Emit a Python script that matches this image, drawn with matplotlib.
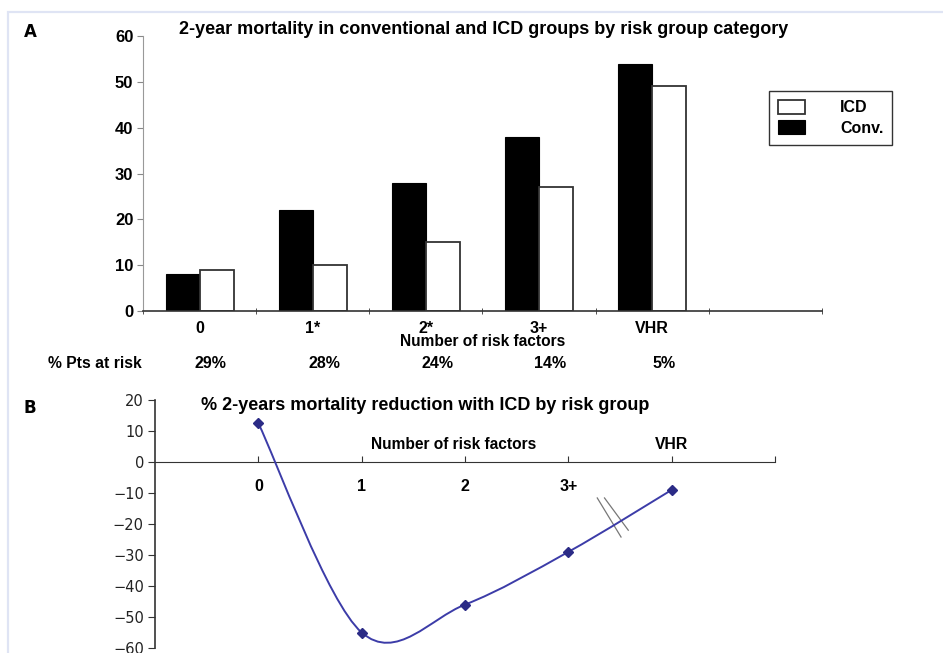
import matplotlib
matplotlib.use("Agg")
import matplotlib.pyplot as plt
from matplotlib.patches import Rectangle, PathPatch
from matplotlib.path import Path
from matplotlib.transforms import blended_transform_factory
import numpy as np

# --- data ---
categories = ["0", "1*", "2*", "3+", "VHR"]
conv = [8, 22, 28, 38, 54]
icd = [9, 10, 15, 27, 49]
pts_at_risk = ["29%", "28%", "24%", "14%", "5%"]

b_labels = ["0", "1", "2", "3+", "VHR"]
reduction = [12.5, -55, -46, -29, -9]

plt.rcParams['font.family'] = ['Liberation Sans', 'DejaVu Sans']

fig = plt.figure(figsize=(9.43, 6.53), dpi=100)

# light frame round the whole figure
fig.patches.append(Rectangle((8 / 943, -0.05), 1.2, 1 - 11.5 / 653 + 0.05,
                             transform=fig.transFigure, fill=False,
                             edgecolor='#dfe4f4', linewidth=1.6, zorder=0))

# ---------------- panel A ----------------
axA = fig.add_axes([143 / 943, 1 - 311 / 653, 679 / 943, 275 / 653])
x = np.arange(len(categories))
w = 0.3
axA.bar(x - w / 2, conv, w, color='black', edgecolor='black', linewidth=0.8, label='Conv.')
axA.bar(x + w / 2, icd, w, color='white', edgecolor='#333333', linewidth=1.3, label='ICD')

axA.set_xlim(-0.5, 5.5)
axA.set_ylim(0, 60)
axA.tick_params(axis='x', which='major', length=0, pad=7)
axA.tick_params(axis='x', which='minor', length=5, direction='inout', color='#333333')
axA.tick_params(axis='y', length=4, color='#888888', pad=3)
axA.set_yticks(range(0, 61, 10))
axA.set_yticklabels([str(v) for v in range(0, 61, 10)], fontsize=12, fontweight='bold')
axA.set_xticks(x)
axA.set_xticklabels(categories, fontsize=11.5, fontweight='bold')
axA.set_xticks(np.arange(-0.5, 6, 1), minor=True)
for s in ['top', 'right']:
    axA.spines[s].set_visible(False)
axA.spines['left'].set_color('#999999')
axA.spines['bottom'].set_color('#333333')
axA.spines['bottom'].set_linewidth(1.2)
axA.set_xlabel("Number of risk factors", fontsize=11.2, fontweight='bold', labelpad=-1)

handles, labels = axA.get_legend_handles_labels()
leg = axA.legend(handles[::-1], labels[::-1], loc='upper left',
                 bbox_to_anchor=(0.922, 0.8), fancybox=False, edgecolor='black',
                 prop={'weight': 'bold', 'size': 11.5}, handlelength=1.7,
                 handleheight=1.0, handletextpad=2.2, borderpad=0.55,
                 labelspacing=0.3, borderaxespad=0)
leg.get_frame().set_linewidth(1.0)

fig.text(95 / 943, 1 - 364 / 653, "% Pts at risk", ha='center', va='center',
         fontsize=11.3, fontweight='bold')
trA = blended_transform_factory(axA.transData, fig.transFigure)
for i, p in enumerate(pts_at_risk):
    axA.text(i + 0.1, 1 - 364 / 653, p, transform=trA, ha='center', va='center',
             fontsize=11.5, fontweight='bold')

fig.text(484 / 943, 1 - 30 / 653,
         "2-year mortality in conventional and ICD groups by risk group category",
         ha='center', va='center', fontsize=13, fontweight='bold')
fig.text(30 / 943, 1 - 32 / 653, "A", ha='center', va='center', fontsize=12,
         fontweight='bold', family='DejaVu Sans')

# ---------------- panel B ----------------
axB = fig.add_axes([155 / 943, 1 - 648 / 653, 620 / 943, 248 / 653])
for s in ['top', 'right']:
    axB.spines[s].set_visible(False)
axB.spines['bottom'].set_position(('data', 0))
axB.spines['bottom'].set_color('#333333')
axB.spines['left'].set_color('#333333')
axB.spines['left'].set_linewidth(1.2)

xb = np.arange(len(reduction))

# smoothed line (cubic Bezier through the points, Excel-style)
pts = np.column_stack([xb, reduction]).astype(float)
verts = [tuple(pts[0])]
codes = [Path.MOVETO]
n = len(pts)
for i in range(n - 1):
    p0 = pts[max(i - 1, 0)]
    p1 = pts[i]
    p2 = pts[i + 1]
    p3 = pts[min(i + 2, n - 1)]
    c1 = p1 + (p2 - p0) / 6
    c2 = p2 - (p3 - p1) / 6
    verts += [tuple(c1), tuple(c2), tuple(p2)]
    codes += [Path.CURVE4] * 3
axB.add_patch(PathPatch(Path(verts, codes), fill=False, edgecolor='#3c3ca8',
                        linewidth=1.4, zorder=3))
axB.plot(xb, reduction, linestyle='none', marker='D', markersize=5.5,
         color='#2b2b86', zorder=4)

# break marks on the last segment
axB.plot([3.28, 3.51], [-11.6, -24.2], color='#777777', linewidth=0.9, zorder=2)
axB.plot([3.35, 3.58], [-11.6, -22.0], color='#777777', linewidth=0.9, zorder=2)

axB.set_xlim(-1, 5)
axB.set_ylim(-60, 20)
axB.tick_params(axis='y', length=5, color='#333333', pad=3)
axB.tick_params(axis='x', direction='in', length=4, pad=12, color='#333333')
axB.set_yticks(range(-60, 21, 10))
axB.set_yticklabels([str(v) if v >= 0 else "\u2212" + str(-v) for v in range(-60, 21, 10)],
                    fontsize=10.5, family='DejaVu Sans', color='#222222')
axB.set_xticks(range(0, 6))
axB.set_xticklabels(["0", "1", "2", "3+", "", ""], fontsize=11.5, fontweight='bold')

axB.text(4, 3.2, b_labels[4], ha='center', va='bottom', fontsize=11.3, fontweight='bold')
axB.text(1.89, 3.2, "Number of risk factors", ha='center', va='bottom',
         fontsize=11.2, fontweight='bold')
fig.text(425 / 943, 1 - 406 / 653, "% 2-years mortality reduction with ICD by risk group",
         ha='center', va='center', fontsize=13, fontweight='bold')
fig.text(30 / 943, 1 - 408 / 653, "B", ha='center', va='center', fontsize=12,
         fontweight='bold', family='DejaVu Sans')

fig.savefig("out.png", dpi=100)
